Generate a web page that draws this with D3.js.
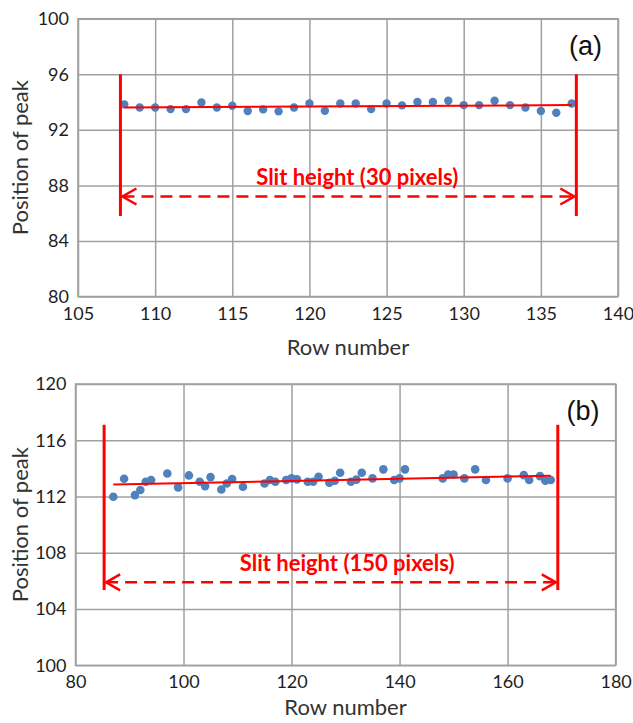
<!DOCTYPE html>
<html>
<head>
<meta charset="utf-8">
<script src="https://cdn.jsdelivr.net/npm/d3@7/dist/d3.min.js"></script>
<style>
  html, body { margin: 0; padding: 0; background: #fff; }
  svg { display: block; }
</style>
</head>
<body>
<svg id="chart" width="633" height="723"></svg>
<script>
// ---------------- Panel (a) data ----------------
const rowsA = [108,109,110,111,112,113,114,115,116,117,118,119,120,121,122,123,124,125,126,127,128,129,130,131,132,133,134,135,136,137];
const peakA = [93.83,93.61,93.61,93.49,93.49,93.97,93.61,93.73,93.35,93.47,93.33,93.61,93.90,93.37,93.90,93.90,93.49,93.90,93.76,94.00,94.00,94.09,93.78,93.78,94.09,93.78,93.61,93.35,93.23,93.90];
const fitRowsA = [108, 137];
const fitValsA = [93.61, 93.78];
const xTicksA = [105,110,115,120,125,130,135,140];
const yTicksA = [80,84,88,92,96,100];
const slitRowsA = [107.75, 137.3];
const slitSpanA = [85.8, 96];
const arrowValA = 87.2;
const slitLabelA = "Slit height (30 pixels)";
const slitLabelRowA = 123.1;
const slitLabelValA = 88.05;
const panelLabelA = "(a)";

// ---------------- Panel (b) data ----------------
const rowsB = [87,89,91,92,93,94,97,99,101,103,104,105,107,108,109,111,115,116,117,119,120,121,123,124,125,127,128,129,131,132,133,135,137,139,140,141,148,149,150,152,154,156,160,163,164,166,167,168];
const peakB = [111.98,113.26,112.10,112.46,113.05,113.17,113.64,112.65,113.50,113.05,112.74,113.38,112.50,112.93,113.24,112.69,112.93,113.17,113.05,113.17,113.29,113.22,113.05,113.05,113.40,112.98,113.12,113.69,113.05,113.20,113.69,113.29,113.93,113.17,113.29,113.93,113.29,113.57,113.57,113.29,113.93,113.17,113.29,113.52,113.17,113.45,113.12,113.17];
const fitRowsB = [87, 168];
const fitValsB = [112.85, 113.48];
const xTicksB = [80,100,120,140,160,180];
const yTicksB = [100,104,108,112,116,120];
const slitRowsB = [85.3, 169.3];
const slitSpanB = [105.35, 117.1];
const arrowValB = 105.9;
const slitLabelB = "Slit height (150 pixels)";
const slitLabelRowB = 130.3;
const slitLabelValB = 106.7;
const panelLabelB = "(b)";

const svg = d3.select("#chart");
svg.append("rect").attr("width", 633).attr("height", 723).attr("fill", "#fff");

const GRID = "#a0a0a0";
const RED = "#ff0000";
const BLUE = "#4f81bd";
const FONT = "Lato, 'Open Sans', sans-serif";

function drawPanel(cfg) {
  const x = d3.scaleLinear().domain(cfg.xDomain).range([cfg.left, cfg.right]);
  const y = d3.scaleLinear().domain(cfg.yDomain).range([cfg.bottom, cfg.top]);
  const w = cfg.right - cfg.left, h = cfg.bottom - cfg.top;
  const g = svg.append("g");

  // y grid + labels
  const ya = g.append("g").attr("transform", `translate(${cfg.left},0)`)
    .call(d3.axisLeft(y).tickValues(cfg.yTicks).tickSize(-w).tickPadding(9).tickFormat(d3.format("d")));
  ya.select(".domain").remove();
  ya.selectAll("line").attr("stroke", GRID).attr("stroke-width", 1.5);
  ya.selectAll("text").attr("font-family", FONT).attr("font-size", 18).attr("fill", "#1e1e1e");

  // x grid + labels
  const xa = g.append("g").attr("transform", `translate(0,${cfg.bottom})`)
    .call(d3.axisBottom(x).tickValues(cfg.xTicks).tickSize(-h).tickPadding(cfg.xPad).tickFormat(d3.format("d")));
  xa.select(".domain").remove();
  xa.selectAll("line").attr("stroke", GRID).attr("stroke-width", 1.5);
  xa.selectAll("text").attr("font-family", FONT).attr("font-size", 18).attr("fill", "#1e1e1e");

  // border
  g.append("rect").attr("x", cfg.left).attr("y", cfg.top).attr("width", w).attr("height", h)
    .attr("fill", "none").attr("stroke", GRID).attr("stroke-width", 1.5);

  // axis titles
  g.append("text").attr("x", (cfg.left + cfg.right) / 2).attr("y", cfg.xTitleY)
    .attr("text-anchor", "middle").attr("font-family", FONT).attr("font-size", 22)
    .attr("fill", "#333").text("Row number");
  g.append("text").attr("transform", `translate(${cfg.yTitleX},${(cfg.top + cfg.bottom) / 2}) rotate(-90)`)
    .attr("text-anchor", "middle").attr("font-family", FONT).attr("font-size", 22)
    .attr("fill", "#333").text("Position of peak");

  // panel label
  g.append("text").attr("x", cfg.right - 16).attr("y", cfg.top + 36)
    .attr("text-anchor", "end").attr("font-family", "'Liberation Sans', Arial, sans-serif")
    .attr("font-size", 27).attr("fill", "#111").text(cfg.panelLabel);

  // points
  g.append("g").selectAll("circle").data(cfg.rows.map((r, i) => [r, cfg.peaks[i]]))
    .join("circle").attr("cx", d => x(d[0])).attr("cy", d => y(d[1]))
    .attr("r", cfg.r).attr("fill", BLUE);

  // fit line
  const line = d3.line().x(d => x(d[0])).y(d => y(d[1]));
  g.append("path").datum(cfg.fitRows.map((r, i) => [r, cfg.fitVals[i]]))
    .attr("d", line).attr("fill", "none").attr("stroke", RED).attr("stroke-width", 2);

  // slit vertical lines
  cfg.slitRows.forEach(r => {
    g.append("line").attr("x1", x(r)).attr("x2", x(r))
      .attr("y1", y(cfg.slitSpan[1])).attr("y2", y(cfg.slitSpan[0]))
      .attr("stroke", RED).attr("stroke-width", 3);
  });

  // dashed double arrow
  const ay = y(cfg.arrowVal);
  const x0 = x(cfg.slitRows[0]) + 2, x1 = x(cfg.slitRows[1]) - 2;
  g.append("line").attr("x1", x0).attr("x2", x1).attr("y1", ay).attr("y2", ay)
    .attr("stroke", RED).attr("stroke-width", 2.5).attr("stroke-dasharray", "12,7");
  const ah = 14, av = 8;
  g.append("path").attr("d", `M${x0 + ah},${ay - av} L${x0},${ay} L${x0 + ah},${ay + av}`)
    .attr("fill", "none").attr("stroke", RED).attr("stroke-width", 2.5);
  g.append("path").attr("d", `M${x1 - ah},${ay - av} L${x1},${ay} L${x1 - ah},${ay + av}`)
    .attr("fill", "none").attr("stroke", RED).attr("stroke-width", 2.5);

  // slit label
  g.append("text").attr("x", x(cfg.slitLabelRow)).attr("y", y(cfg.slitLabelVal))
    .attr("text-anchor", "middle").attr("font-family", FONT).attr("font-weight", "bold")
    .attr("font-size", 22).attr("fill", RED).text(cfg.slitLabel);
}

drawPanel({
  xDomain: [105, 140], yDomain: [80, 100],
  left: 78, right: 618, top: 18.7, bottom: 296.5,
  xTicks: xTicksA, yTicks: yTicksA, xPad: 11,
  xTitleY: 355, yTitleX: 28,
  panelLabel: panelLabelA,
  rows: rowsA, peaks: peakA, r: 4.2,
  fitRows: fitRowsA, fitVals: fitValsA,
  slitRows: slitRowsA, slitSpan: slitSpanA, arrowVal: arrowValA,
  slitLabel: slitLabelA, slitLabelRow: slitLabelRowA, slitLabelVal: slitLabelValA
});

drawPanel({
  xDomain: [80, 180], yDomain: [100, 120],
  left: 75.5, right: 615.6, top: 384, bottom: 665.3,
  xTicks: xTicksB, yTicks: yTicksB, xPad: 10,
  xTitleY: 715, yTitleX: 28,
  panelLabel: panelLabelB,
  rows: rowsB, peaks: peakB, r: 4.3,
  fitRows: fitRowsB, fitVals: fitValsB,
  slitRows: slitRowsB, slitSpan: slitSpanB, arrowVal: arrowValB,
  slitLabel: slitLabelB, slitLabelRow: slitLabelRowB, slitLabelVal: slitLabelValB
});
</script>
</body>
</html>
